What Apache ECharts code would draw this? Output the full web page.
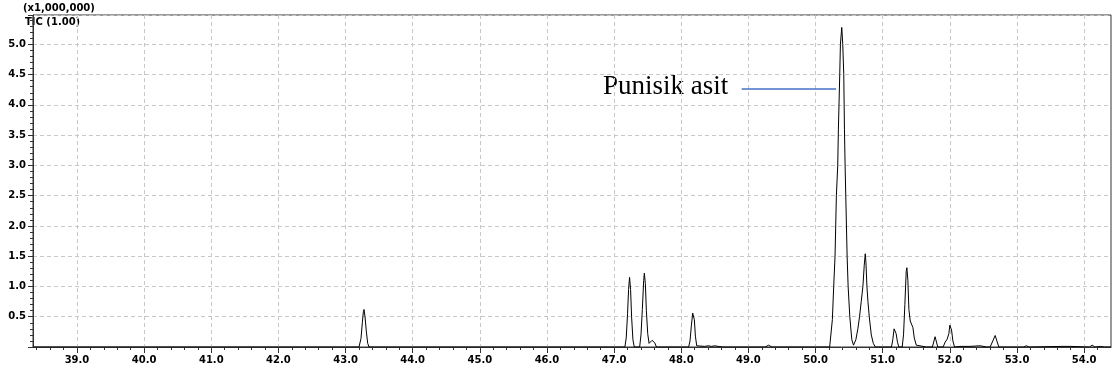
<!DOCTYPE html>
<html>
<head>
<meta charset="utf-8">
<script src="https://cdn.jsdelivr.net/npm/echarts/dist/echarts.min.js"></script>
<style>
  html, body { margin: 0; padding: 0; background: #fff; }
  #chart { width: 1118px; height: 374px; }
</style>
</head>
<body>
<div id="chart"></div>
<script>
// retention time (min) and TIC intensity (x1,000,000)
var rtMin = [
  38.345, 43.20, 43.23, 43.25, 43.265, 43.275, 43.29, 43.31, 43.33, 43.35,
  47.16, 47.18, 47.20, 47.215, 47.23, 47.245, 47.26, 47.28, 47.30,
  47.38, 47.40, 47.42, 47.44, 47.45, 47.465, 47.48, 47.50, 47.52, 47.545, 47.565, 47.585, 47.605, 47.63,
  48.11, 48.13, 48.15, 48.17, 48.18, 48.195, 48.21, 48.23, 48.25,
  48.35, 48.40, 48.45, 48.50, 48.55, 48.62, 49.25, 49.30, 49.35,
  50.21, 50.25, 50.27, 50.29, 50.30, 50.31, 50.33, 50.34, 50.36, 50.37, 50.39,
  50.405, 50.42, 50.43, 50.44, 50.45, 50.46, 50.47, 50.485, 50.51, 50.54, 50.565,
  50.60, 50.63, 50.655, 50.68, 50.705, 50.725, 50.74, 50.75, 50.765, 50.78, 50.80, 50.83, 50.86, 50.89,
  51.13, 51.15, 51.17, 51.18, 51.20, 51.22, 51.24,
  51.29, 51.31, 51.33, 51.35, 51.36, 51.375, 51.39, 51.41, 51.43, 51.45, 51.47, 51.50, 51.52,
  51.60, 51.65, 51.74, 51.78, 51.82,
  51.90, 51.93, 51.96, 51.985, 52.00, 52.01, 52.025, 52.045, 52.07,
  52.15, 52.30, 52.45, 52.55, 52.60, 52.64, 52.675, 52.70, 52.73,
  53.10, 53.14, 53.18, 53.67, 53.79, 54.08, 54.12, 54.16, 54.24, 54.30, 54.40
];
var tic = [
  0, 0, 0.14, 0.40, 0.58, 0.62, 0.50, 0.25, 0.06, 0,
  0, 0.15, 0.55, 0.95, 1.15, 0.95, 0.50, 0.12, 0,
  0, 0.20, 0.62, 1.10, 1.22, 1.05, 0.60, 0.22, 0.06, 0.04, 0.11, 0.14, 0.07, 0,
  0, 0.10, 0.35, 0.56, 0.58, 0.45, 0.18, 0.02, 0,
  0.01, 0.02, 0.01, 0.02, 0.01, 0, 0, 0.03, 0,
  0, 0.45, 1.0, 1.5, 2.0, 2.5, 3.0, 3.6, 4.5, 5.0, 5.28,
  5.0, 4.5, 3.6, 3.0, 2.5, 2.0, 1.5, 1.0, 0.5, 0.12, 0.03,
  0.12, 0.30, 0.50, 0.75, 1.0, 1.35, 1.54, 1.40, 1.0, 0.75, 0.50, 0.20, 0.06, 0,
  0, 0.12, 0.30, 0.33, 0.22, 0.08, 0,
  0, 0.20, 0.70, 1.25, 1.31, 1.10, 0.62, 0.43, 0.40, 0.32, 0.15, 0.03, 0,
  0.01, 0, 0, 0.17, 0,
  0, 0.08, 0.13, 0.22, 0.36, 0.38, 0.28, 0.10, 0,
  0.01, 0.01, 0.02, 0, 0, 0.10, 0.19, 0.10, 0,
  0, 0.02, 0, 0.01, 0.01, 0, 0.03, 0, 0.01, 0, 0
];
var xTicks = [39, 40, 41, 42, 43, 44, 45, 46, 47, 48, 49, 50, 51, 52, 53, 54];
var labelText = 'Punisik asit';
var labelLine = [[48.90, 4.27], [50.306, 4.27]];

var xMinor = [];
for (var i = 0; i < xTicks.length + 1; i++) {
  for (var k = 1; k < 5; k++) {
    var m = xTicks[0] - 1 + i + k * 0.2;
    if (m > 38.345 && m < 54.40) xMinor.push(+m.toFixed(1));
  }
}

var points = rtMin.map(function (t, i) { return [t, tic[i]]; });
var axisColor = '#333';
var labelFont = { fontFamily: 'DejaVu Sans', fontWeight: 'bold', fontSize: 10, color: '#000' };

var chart = echarts.init(document.getElementById('chart'));
chart.setOption({
  animation: false,
  backgroundColor: '#fff',
  grid: {
    left: 33, right: 7, top: 15, bottom: 27,
    show: true, borderColor: axisColor, borderWidth: 1
  },
  xAxis: [{
    type: 'value',
    min: 38.345, max: 54.40,
    axisLine: { onZero: false, lineStyle: { color: axisColor, width: 1 } },
    axisTick: { customValues: xTicks, length: 6, lineStyle: { color: axisColor } },
    axisLabel: Object.assign({
      customValues: xTicks, margin: 8,
      formatter: function (v) { return v.toFixed(1); }
    }, labelFont),
    splitLine: { show: true, lineStyle: { color: '#c8c8c8', type: [4, 3], width: 1 } }
  }, {
    type: 'value',
    position: 'bottom',
    min: 38.345, max: 54.40,
    axisLine: { show: false },
    axisTick: { customValues: xMinor, length: 3, lineStyle: { color: axisColor } },
    axisLabel: { show: false },
    splitLine: { show: false }
  }],
  yAxis: {
    type: 'value',
    min: 0, max: 5.485, interval: 0.5,
    axisLine: { show: true, lineStyle: { color: axisColor, width: 1 } },
    axisTick: { show: true, length: 5, lineStyle: { color: axisColor } },
    minorTick: { show: true, splitNumber: 5, length: 3, lineStyle: { color: axisColor } },
    axisLabel: Object.assign({
      margin: 7,
      formatter: function (v) {
        if (v === 0 || Math.abs(v * 2 - Math.round(v * 2)) > 1e-6) return '';
        return v.toFixed(1);
      }
    }, labelFont),
    splitLine: { show: true, lineStyle: { color: '#c8c8c8', type: [4, 3], width: 1 } }
  },
  graphic: [
    { type: 'text', left: 23, top: 3, style: { text: '(x1,000,000)', font: 'bold 10px "DejaVu Sans"', fill: '#000' } },
    { type: 'text', left: 25, top: 17, style: { text: 'TIC (1.00)', font: 'bold 10px "DejaVu Sans"', fill: '#000' } },
    { type: 'text', left: 603, top: 73, style: { text: labelText, font: '27px "Liberation Serif"', fill: '#000' } }
  ],
  series: [{
    type: 'line',
    data: points,
    symbol: 'none',
    lineStyle: { color: '#000', width: 1 },
    markLine: {
      silent: true,
      symbol: 'none',
      label: { show: false },
      lineStyle: { color: '#4472C4', width: 1.5, type: 'solid' },
      data: [[{ coord: labelLine[0] }, { coord: labelLine[1] }]]
    }
  }]
});
</script>
</body>
</html>
